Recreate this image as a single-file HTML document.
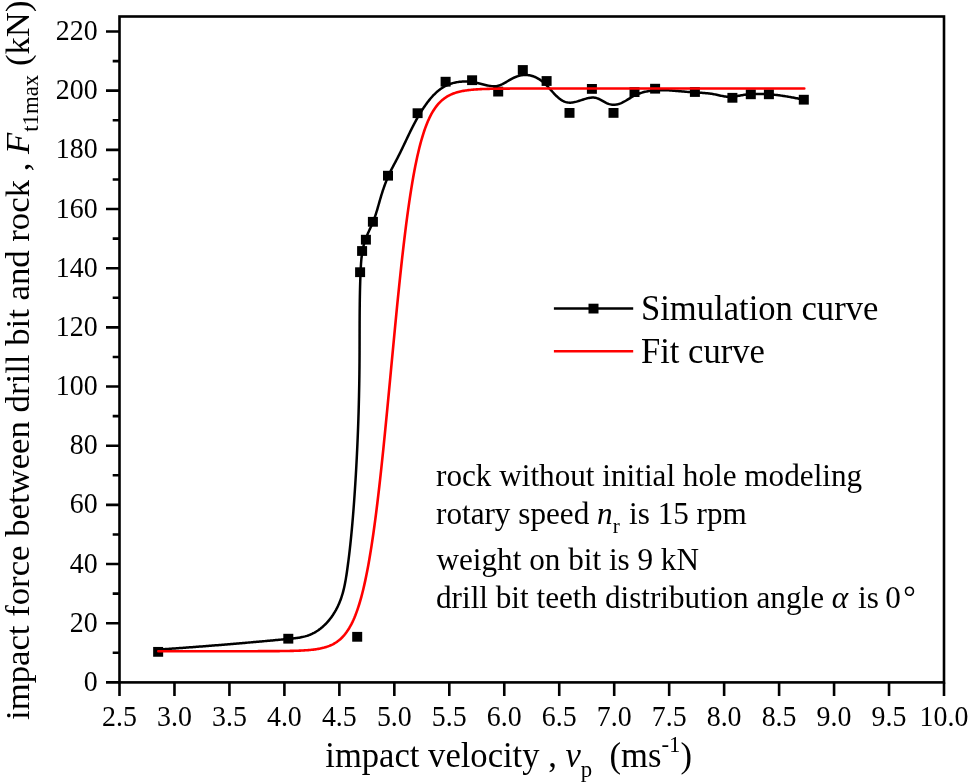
<!DOCTYPE html><html><head><meta charset="utf-8"><style>html,body{margin:0;padding:0;background:#fff;}svg{display:block;will-change:transform}</style></head><body>
<svg width="969" height="784" viewBox="0 0 969 784" font-family="Liberation Serif, serif">
<rect width="969" height="784" fill="#fff"/>
<path d="M106.00 682.40H119.50 M112.70 652.81H119.50 M106.00 623.23H119.50 M112.70 593.64H119.50 M106.00 564.05H119.50 M112.70 534.47H119.50 M106.00 504.88H119.50 M112.70 475.30H119.50 M106.00 445.71H119.50 M112.70 416.12H119.50 M106.00 386.54H119.50 M112.70 356.95H119.50 M106.00 327.36H119.50 M112.70 297.78H119.50 M106.00 268.19H119.50 M112.70 238.60H119.50 M106.00 209.02H119.50 M112.70 179.43H119.50 M106.00 149.85H119.50 M112.70 120.26H119.50 M106.00 90.67H119.50 M112.70 61.09H119.50 M106.00 31.50H119.50 M119.50 682.40V695.90 M174.47 682.40V695.90 M229.43 682.40V695.90 M284.40 682.40V695.90 M339.37 682.40V695.90 M394.33 682.40V695.90 M449.30 682.40V695.90 M504.27 682.40V695.90 M559.23 682.40V695.90 M614.20 682.40V695.90 M669.17 682.40V695.90 M724.13 682.40V695.90 M779.10 682.40V695.90 M834.07 682.40V695.90 M889.03 682.40V695.90 M944.00 682.40V695.90" stroke="#000" stroke-width="2.6" fill="none"/>
<rect x="119.5" y="16.5" width="824.5" height="665.9" fill="none" stroke="#000" stroke-width="2.6"/>
<text transform="matrix(1 0 0 1.075 0 -51.817)" x="97.6" y="690.90" font-size="27.9" text-anchor="end">0</text>
<text transform="matrix(1 0 0 1.075 0 -47.380)" x="97.6" y="631.73" font-size="27.9" text-anchor="end">20</text>
<text transform="matrix(1 0 0 1.075 0 -42.942)" x="97.6" y="572.55" font-size="27.9" text-anchor="end">40</text>
<text transform="matrix(1 0 0 1.075 0 -38.504)" x="97.6" y="513.38" font-size="27.9" text-anchor="end">60</text>
<text transform="matrix(1 0 0 1.075 0 -34.066)" x="97.6" y="454.21" font-size="27.9" text-anchor="end">80</text>
<text transform="matrix(1 0 0 1.075 0 -29.628)" x="97.6" y="395.04" font-size="27.9" text-anchor="end">100</text>
<text transform="matrix(1 0 0 1.075 0 -25.190)" x="97.6" y="335.86" font-size="27.9" text-anchor="end">120</text>
<text transform="matrix(1 0 0 1.075 0 -20.752)" x="97.6" y="276.69" font-size="27.9" text-anchor="end">140</text>
<text transform="matrix(1 0 0 1.075 0 -16.314)" x="97.6" y="217.52" font-size="27.9" text-anchor="end">160</text>
<text transform="matrix(1 0 0 1.075 0 -11.876)" x="97.6" y="158.35" font-size="27.9" text-anchor="end">180</text>
<text transform="matrix(1 0 0 1.075 0 -7.438)" x="97.6" y="99.17" font-size="27.9" text-anchor="end">200</text>
<text transform="matrix(1 0 0 1.075 0 -3.000)" x="97.6" y="40.00" font-size="27.9" text-anchor="end">220</text>
<text transform="matrix(1 0 0 1.075 0 -54.472)" x="119.50" y="726.3" font-size="27.9" text-anchor="middle">2.5</text>
<text transform="matrix(1 0 0 1.075 0 -54.472)" x="174.47" y="726.3" font-size="27.9" text-anchor="middle">3.0</text>
<text transform="matrix(1 0 0 1.075 0 -54.472)" x="229.43" y="726.3" font-size="27.9" text-anchor="middle">3.5</text>
<text transform="matrix(1 0 0 1.075 0 -54.472)" x="284.40" y="726.3" font-size="27.9" text-anchor="middle">4.0</text>
<text transform="matrix(1 0 0 1.075 0 -54.472)" x="339.37" y="726.3" font-size="27.9" text-anchor="middle">4.5</text>
<text transform="matrix(1 0 0 1.075 0 -54.472)" x="394.33" y="726.3" font-size="27.9" text-anchor="middle">5.0</text>
<text transform="matrix(1 0 0 1.075 0 -54.472)" x="449.30" y="726.3" font-size="27.9" text-anchor="middle">5.5</text>
<text transform="matrix(1 0 0 1.075 0 -54.472)" x="504.27" y="726.3" font-size="27.9" text-anchor="middle">6.0</text>
<text transform="matrix(1 0 0 1.075 0 -54.472)" x="559.23" y="726.3" font-size="27.9" text-anchor="middle">6.5</text>
<text transform="matrix(1 0 0 1.075 0 -54.472)" x="614.20" y="726.3" font-size="27.9" text-anchor="middle">7.0</text>
<text transform="matrix(1 0 0 1.075 0 -54.472)" x="669.17" y="726.3" font-size="27.9" text-anchor="middle">7.5</text>
<text transform="matrix(1 0 0 1.075 0 -54.472)" x="724.13" y="726.3" font-size="27.9" text-anchor="middle">8.0</text>
<text transform="matrix(1 0 0 1.075 0 -54.472)" x="779.10" y="726.3" font-size="27.9" text-anchor="middle">8.5</text>
<text transform="matrix(1 0 0 1.075 0 -54.472)" x="834.07" y="726.3" font-size="27.9" text-anchor="middle">9.0</text>
<text transform="matrix(1 0 0 1.075 0 -54.472)" x="889.03" y="726.3" font-size="27.9" text-anchor="middle">9.5</text>
<text transform="matrix(1 0 0 1.075 0 -54.472)" x="944.00" y="726.3" font-size="27.9" text-anchor="middle">10.0</text>
<path d="M158.13 649.62 L159.15 649.55 L160.17 649.48 L161.19 649.41 L162.20 649.34 L163.22 649.27 L164.24 649.19 L165.25 649.12 L166.27 649.05 L167.28 648.98 L168.29 648.91 L169.30 648.84 L170.31 648.76 L171.32 648.69 L172.33 648.62 L173.34 648.55 L174.35 648.48 L175.35 648.40 L176.36 648.33 L177.36 648.26 L178.37 648.18 L179.37 648.11 L180.37 648.04 L181.38 647.96 L182.38 647.89 L183.38 647.82 L184.38 647.74 L185.38 647.67 L186.38 647.59 L187.37 647.52 L188.37 647.44 L189.37 647.37 L190.37 647.30 L191.36 647.22 L192.36 647.14 L193.35 647.07 L194.35 646.99 L195.34 646.92 L196.33 646.84 L197.33 646.77 L198.32 646.69 L199.31 646.61 L200.30 646.54 L201.29 646.46 L202.28 646.38 L203.27 646.31 L204.26 646.23 L205.25 646.15 L206.24 646.07 L207.23 646.00 L208.22 645.92 L209.21 645.84 L210.20 645.76 L211.19 645.68 L212.18 645.60 L213.17 645.52 L214.15 645.45 L215.14 645.37 L216.13 645.29 L217.12 645.21 L218.10 645.13 L219.09 645.05 L220.08 644.97 L221.07 644.89 L222.05 644.81 L223.04 644.72 L224.03 644.64 L225.01 644.56 L226.00 644.48 L226.99 644.40 L227.98 644.32 L228.96 644.23 L229.95 644.15 L230.94 644.07 L231.93 643.99 L232.91 643.90 L233.90 643.82 L234.89 643.74 L235.88 643.65 L236.87 643.57 L237.86 643.48 L238.85 643.40 L239.84 643.32 L240.82 643.23 L241.81 643.15 L242.80 643.06 L243.80 642.97 L244.79 642.89 L245.78 642.80 L246.77 642.72 L247.76 642.63 L248.75 642.54 L249.75 642.46 L250.74 642.37 L251.73 642.28 L252.73 642.19 L253.72 642.11 L254.72 642.02 L255.71 641.93 L256.71 641.84 L257.71 641.75 L258.70 641.66 L259.70 641.57 L260.70 641.48 L261.70 641.39 L262.70 641.30 L263.70 641.21 L264.70 641.12 L265.70 641.03 L266.71 640.94 L267.71 640.85 L268.71 640.76 L269.72 640.66 L270.72 640.57 L271.73 640.48 L272.74 640.39 L273.74 640.29 L274.75 640.20 L275.76 640.11 L276.77 640.01 L277.78 639.92 L278.80 639.82 L279.81 639.73 L280.82 639.63 L281.84 639.54 L282.85 639.44 L283.87 639.35 L284.89 639.25 L285.91 639.15 L286.93 639.06 L287.95 638.96 L288.97 638.86 L289.99 638.76 L291.02 638.66 L292.04 638.56 L293.06 638.45 L294.08 638.34 L295.10 638.22 L296.11 638.09 L297.12 637.95 L298.13 637.80 L299.13 637.65 L300.13 637.48 L301.12 637.29 L302.11 637.09 L303.09 636.88 L304.06 636.65 L305.03 636.40 L305.98 636.13 L306.93 635.85 L307.87 635.54 L308.79 635.21 L309.71 634.85 L310.62 634.48 L311.51 634.08 L312.40 633.67 L313.28 633.23 L314.14 632.78 L314.99 632.30 L315.84 631.81 L316.67 631.29 L317.49 630.76 L318.30 630.21 L319.10 629.64 L319.89 629.06 L320.67 628.46 L321.44 627.84 L322.20 627.21 L322.94 626.56 L323.68 625.89 L324.40 625.21 L325.11 624.52 L325.81 623.81 L326.50 623.09 L327.17 622.36 L327.84 621.61 L328.49 620.85 L329.13 620.08 L329.76 619.30 L330.38 618.51 L330.99 617.70 L331.58 616.89 L332.17 616.06 L332.74 615.23 L333.29 614.38 L333.84 613.53 L334.37 612.67 L334.89 611.80 L335.40 610.92 L335.90 610.04 L336.38 609.14 L336.85 608.25 L337.31 607.34 L337.76 606.43 L338.19 605.52 L338.61 604.60 L339.02 603.67 L339.41 602.74 L339.79 601.81 L340.16 600.88 L340.52 599.94 L340.86 599.00 L341.19 598.05 L341.51 597.10 L341.82 596.15 L342.12 595.20 L342.41 594.24 L342.69 593.28 L342.95 592.32 L343.21 591.35 L343.46 590.39 L343.70 589.42 L343.93 588.45 L344.16 587.47 L344.37 586.50 L344.58 585.52 L344.78 584.54 L344.98 583.56 L345.17 582.58 L345.35 581.60 L345.53 580.62 L345.70 579.63 L345.87 578.64 L346.03 577.66 L346.19 576.67 L346.35 575.68 L346.50 574.69 L346.65 573.70 L346.80 572.71 L346.94 571.71 L347.08 570.72 L347.22 569.73 L347.36 568.74 L347.50 567.74 L347.63 566.75 L347.77 565.76 L347.90 564.77 L348.03 563.77 L348.16 562.78 L348.29 561.79 L348.42 560.79 L348.54 559.80 L348.67 558.80 L348.79 557.81 L348.92 556.82 L349.04 555.82 L349.16 554.83 L349.28 553.83 L349.39 552.84 L349.51 551.84 L349.62 550.85 L349.74 549.85 L349.85 548.86 L349.96 547.86 L350.07 546.87 L350.18 545.87 L350.29 544.88 L350.40 543.88 L350.50 542.89 L350.61 541.89 L350.71 540.89 L350.82 539.90 L350.92 538.90 L351.02 537.91 L351.12 536.91 L351.22 535.91 L351.31 534.92 L351.41 533.92 L351.51 532.92 L351.60 531.93 L351.69 530.93 L351.79 529.93 L351.88 528.93 L351.97 527.94 L352.06 526.94 L352.15 525.94 L352.24 524.95 L352.33 523.95 L352.41 522.95 L352.50 521.95 L352.58 520.95 L352.67 519.96 L352.75 518.96 L352.84 517.96 L352.92 516.96 L353.00 515.96 L353.08 514.97 L353.16 513.97 L353.24 512.97 L353.32 511.97 L353.39 510.97 L353.47 509.97 L353.55 508.98 L353.62 507.98 L353.70 506.98 L353.77 505.98 L353.85 504.98 L353.92 503.98 L353.99 502.98 L354.07 501.98 L354.14 500.99 L354.21 499.99 L354.28 498.99 L354.35 497.99 L354.42 496.99 L354.49 495.99 L354.56 494.99 L354.62 493.99 L354.69 492.99 L354.76 491.99 L354.83 490.99 L354.89 489.99 L354.96 488.99 L355.02 487.99 L355.09 487.00 L355.15 486.00 L355.22 485.00 L355.28 484.00 L355.34 483.00 L355.40 482.00 L355.47 481.00 L355.53 480.00 L355.59 479.00 L355.65 478.00 L355.71 477.00 L355.77 476.00 L355.83 475.00 L355.89 474.00 L355.94 473.00 L356.00 472.00 L356.06 471.00 L356.12 470.00 L356.17 469.00 L356.23 468.00 L356.28 467.00 L356.34 466.00 L356.39 465.00 L356.44 464.00 L356.50 463.00 L356.55 462.00 L356.60 461.00 L356.65 460.00 L356.71 459.00 L356.76 458.00 L356.81 456.99 L356.86 455.99 L356.91 454.99 L356.96 453.99 L357.00 452.99 L357.05 451.99 L357.10 450.99 L357.15 449.99 L357.19 448.99 L357.24 447.99 L357.29 446.99 L357.33 445.99 L357.38 444.99 L357.42 443.99 L357.46 442.99 L357.51 441.99 L357.55 440.98 L357.59 439.98 L357.64 438.98 L357.68 437.98 L357.72 436.98 L357.76 435.98 L357.80 434.98 L357.84 433.98 L357.88 432.98 L357.92 431.98 L357.96 430.98 L357.99 429.97 L358.03 428.97 L358.07 427.97 L358.10 426.97 L358.14 425.97 L358.18 424.97 L358.21 423.97 L358.25 422.97 L358.28 421.97 L358.31 420.96 L358.35 419.96 L358.38 418.96 L358.41 417.96 L358.44 416.96 L358.47 415.96 L358.51 414.96 L358.54 413.96 L358.57 412.95 L358.60 411.95 L358.63 410.95 L358.65 409.95 L358.68 408.95 L358.71 407.95 L358.74 406.95 L358.76 405.94 L358.79 404.94 L358.82 403.94 L358.84 402.94 L358.87 401.94 L358.89 400.94 L358.92 399.94 L358.94 398.94 L358.96 397.93 L358.99 396.93 L359.01 395.93 L359.03 394.93 L359.05 393.93 L359.07 392.93 L359.09 391.93 L359.11 390.92 L359.13 389.92 L359.15 388.92 L359.17 387.92 L359.19 386.92 L359.21 385.92 L359.23 384.91 L359.24 383.91 L359.26 382.91 L359.28 381.91 L359.29 380.91 L359.31 379.91 L359.32 378.91 L359.34 377.90 L359.35 376.90 L359.36 375.90 L359.38 374.90 L359.39 373.90 L359.40 372.90 L359.41 371.89 L359.42 370.89 L359.44 369.89 L359.45 368.89 L359.46 367.89 L359.47 366.89 L359.48 365.89 L359.48 364.88 L359.49 363.88 L359.50 362.88 L359.51 361.88 L359.51 360.88 L359.52 359.88 L359.53 358.87 L359.53 357.87 L359.54 356.87 L359.54 355.87 L359.55 354.87 L359.55 353.87 L359.56 352.87 L359.56 351.86 L359.56 350.86 L359.57 349.86 L359.57 348.86 L359.57 347.86 L359.57 346.86 L359.58 345.86 L359.58 344.85 L359.58 343.85 L359.58 342.85 L359.58 341.85 L359.58 340.85 L359.59 339.85 L359.59 338.85 L359.59 337.84 L359.59 336.84 L359.59 335.84 L359.59 334.84 L359.60 333.84 L359.60 332.84 L359.60 331.83 L359.60 330.83 L359.60 329.83 L359.60 328.83 L359.61 327.83 L359.61 326.83 L359.61 325.83 L359.61 324.82 L359.62 323.82 L359.62 322.82 L359.62 321.82 L359.63 320.82 L359.63 319.82 L359.64 318.82 L359.64 317.81 L359.65 316.81 L359.65 315.81 L359.66 314.81 L359.67 313.81 L359.67 312.81 L359.68 311.80 L359.69 310.80 L359.70 309.80 L359.71 308.80 L359.72 307.80 L359.73 306.80 L359.74 305.79 L359.75 304.79 L359.76 303.79 L359.77 302.79 L359.79 301.79 L359.80 300.79 L359.81 299.78 L359.83 298.78 L359.85 297.78 L359.86 296.78 L359.88 295.78 L359.90 294.77 L359.92 293.77 L359.94 292.77 L359.96 291.77 L359.98 290.77 L360.00 289.77 L360.03 288.76 L360.05 287.76 L360.08 286.76 L360.10 285.76 L360.13 284.76 L360.16 283.75 L360.19 282.75 L360.22 281.75 L360.25 280.75 L360.28 279.75 L360.32 278.74 L360.35 277.74 L360.39 276.74 L360.43 275.74 L360.46 274.74 L360.50 273.73 L360.54 272.73 L360.59 271.73 L360.63 270.73 L360.68 269.72 L360.72 268.72 L360.77 267.72 L360.83 266.72 L360.89 265.72 L360.95 264.72 L361.01 263.72 L361.08 262.72 L361.16 261.73 L361.24 260.73 L361.33 259.74 L361.43 258.74 L361.53 257.75 L361.65 256.76 L361.76 255.77 L361.89 254.79 L362.03 253.80 L362.18 252.82 L362.33 251.84 L362.50 250.86 L362.68 249.89 L362.87 248.91 L363.07 247.94 L363.29 246.98 L363.51 246.01 L363.75 245.05 L364.01 244.09 L364.27 243.13 L364.56 242.18 L364.85 241.23 L365.17 240.29 L365.50 239.34 L365.84 238.41 L366.20 237.47 L366.57 236.54 L366.95 235.61 L367.35 234.68 L367.75 233.76 L368.16 232.83 L368.57 231.91 L368.99 230.98 L369.41 230.06 L369.84 229.14 L370.26 228.22 L370.68 227.29 L371.10 226.37 L371.52 225.44 L371.92 224.51 L372.33 223.58 L372.72 222.65 L373.10 221.72 L373.48 220.78 L373.84 219.84 L374.19 218.89 L374.54 217.94 L374.87 216.99 L375.20 216.04 L375.51 215.09 L375.83 214.13 L376.13 213.18 L376.43 212.22 L376.72 211.26 L377.01 210.30 L377.30 209.34 L377.58 208.37 L377.85 207.41 L378.13 206.45 L378.40 205.49 L378.68 204.52 L378.95 203.56 L379.22 202.60 L379.49 201.64 L379.77 200.68 L380.04 199.72 L380.32 198.76 L380.60 197.81 L380.88 196.85 L381.17 195.90 L381.46 194.95 L381.75 194.00 L382.05 193.06 L382.35 192.11 L382.65 191.17 L382.96 190.22 L383.28 189.28 L383.60 188.34 L383.92 187.41 L384.25 186.47 L384.58 185.54 L384.92 184.61 L385.27 183.68 L385.62 182.75 L385.97 181.82 L386.34 180.89 L386.71 179.97 L387.08 179.05 L387.46 178.13 L387.85 177.21 L388.25 176.29 L388.65 175.38 L389.06 174.46 L389.48 173.55 L389.90 172.64 L390.33 171.73 L390.78 170.82 L391.22 169.92 L391.68 169.02 L392.15 168.11 L392.62 167.21 L393.09 166.31 L393.57 165.41 L394.05 164.52 L394.53 163.62 L395.01 162.72 L395.49 161.82 L395.96 160.93 L396.44 160.03 L396.91 159.13 L397.37 158.24 L397.83 157.34 L398.29 156.44 L398.74 155.55 L399.19 154.65 L399.64 153.75 L400.08 152.85 L400.52 151.96 L400.96 151.06 L401.40 150.16 L401.83 149.26 L402.26 148.37 L402.69 147.47 L403.12 146.58 L403.55 145.68 L403.97 144.78 L404.40 143.89 L404.82 142.99 L405.25 142.10 L405.67 141.21 L406.09 140.31 L406.52 139.42 L406.94 138.53 L407.36 137.64 L407.79 136.74 L408.21 135.85 L408.64 134.96 L409.07 134.07 L409.50 133.19 L409.93 132.30 L410.36 131.41 L410.80 130.53 L411.24 129.64 L411.68 128.76 L412.12 127.87 L412.57 126.99 L413.01 126.11 L413.47 125.23 L413.92 124.35 L414.38 123.47 L414.85 122.60 L415.32 121.72 L415.79 120.85 L416.27 119.97 L416.75 119.10 L417.24 118.23 L417.73 117.36 L418.23 116.49 L418.73 115.63 L419.24 114.76 L419.76 113.90 L420.28 113.04 L420.81 112.18 L421.35 111.32 L421.89 110.46 L422.44 109.60 L422.99 108.75 L423.56 107.90 L424.13 107.05 L424.71 106.20 L425.30 105.35 L425.90 104.51 L426.50 103.67 L427.11 102.84 L427.74 102.02 L428.37 101.20 L429.00 100.39 L429.65 99.59 L430.31 98.79 L430.97 98.01 L431.65 97.24 L432.33 96.47 L433.02 95.72 L433.73 94.99 L434.44 94.26 L435.16 93.55 L435.89 92.86 L436.63 92.18 L437.38 91.52 L438.15 90.88 L438.92 90.25 L439.70 89.64 L440.49 89.05 L441.29 88.48 L442.11 87.94 L442.93 87.41 L443.77 86.91 L444.61 86.43 L445.47 85.97 L446.34 85.54 L447.22 85.13 L448.11 84.75 L449.01 84.38 L449.91 84.04 L450.83 83.73 L451.75 83.43 L452.68 83.16 L453.62 82.91 L454.57 82.68 L455.53 82.47 L456.49 82.29 L457.45 82.12 L458.42 81.98 L459.40 81.86 L460.38 81.76 L461.37 81.67 L462.36 81.61 L463.35 81.57 L464.35 81.55 L465.35 81.55 L466.35 81.56 L467.35 81.60 L468.36 81.65 L469.37 81.73 L470.37 81.82 L471.38 81.93 L472.39 82.06 L473.40 82.20 L474.41 82.37 L475.41 82.55 L476.42 82.75 L477.42 82.96 L478.42 83.19 L479.42 83.44 L480.41 83.69 L481.41 83.96 L482.40 84.22 L483.38 84.48 L484.37 84.74 L485.35 84.99 L486.33 85.23 L487.31 85.45 L488.28 85.65 L489.25 85.83 L490.21 85.98 L491.18 86.10 L492.14 86.19 L493.09 86.24 L494.05 86.25 L495.00 86.21 L495.94 86.12 L496.89 85.99 L497.82 85.79 L498.76 85.54 L499.69 85.24 L500.62 84.89 L501.54 84.49 L502.47 84.06 L503.39 83.59 L504.31 83.10 L505.23 82.59 L506.14 82.06 L507.06 81.53 L507.98 80.99 L508.90 80.44 L509.82 79.91 L510.74 79.38 L511.66 78.87 L512.58 78.39 L513.51 77.93 L514.44 77.50 L515.37 77.10 L516.30 76.73 L517.23 76.39 L518.17 76.09 L519.11 75.82 L520.05 75.58 L520.98 75.38 L521.92 75.22 L522.86 75.09 L523.80 75.00 L524.75 74.95 L525.69 74.93 L526.63 74.96 L527.57 75.03 L528.50 75.14 L529.44 75.29 L530.37 75.48 L531.31 75.70 L532.23 75.97 L533.15 76.27 L534.07 76.61 L534.98 76.98 L535.88 77.39 L536.77 77.83 L537.65 78.30 L538.53 78.81 L539.39 79.35 L540.24 79.91 L541.08 80.51 L541.91 81.14 L542.72 81.79 L543.52 82.47 L544.30 83.18 L545.08 83.90 L545.84 84.64 L546.59 85.40 L547.34 86.18 L548.08 86.96 L548.81 87.75 L549.54 88.54 L550.26 89.34 L550.98 90.14 L551.69 90.94 L552.40 91.73 L553.12 92.51 L553.83 93.29 L554.55 94.05 L555.26 94.79 L555.98 95.52 L556.71 96.23 L557.44 96.91 L558.17 97.57 L558.92 98.20 L559.67 98.80 L560.43 99.37 L561.20 99.90 L561.98 100.39 L562.78 100.84 L563.59 101.24 L564.41 101.60 L565.25 101.91 L566.10 102.17 L566.97 102.38 L567.86 102.53 L568.77 102.62 L569.69 102.65 L570.63 102.63 L571.59 102.56 L572.56 102.44 L573.54 102.28 L574.53 102.09 L575.52 101.87 L576.51 101.62 L577.51 101.34 L578.51 101.05 L579.50 100.74 L580.49 100.42 L581.47 100.10 L582.45 99.78 L583.42 99.46 L584.39 99.15 L585.34 98.85 L586.30 98.58 L587.25 98.32 L588.19 98.09 L589.13 97.90 L590.07 97.74 L591.01 97.63 L591.94 97.56 L592.86 97.54 L593.79 97.58 L594.71 97.67 L595.63 97.84 L596.55 98.07 L597.47 98.38 L598.39 98.75 L599.30 99.16 L600.22 99.63 L601.13 100.12 L602.05 100.63 L602.96 101.15 L603.88 101.67 L604.79 102.17 L605.71 102.66 L606.63 103.11 L607.55 103.52 L608.47 103.87 L609.39 104.16 L610.32 104.39 L611.24 104.56 L612.17 104.68 L613.09 104.74 L614.01 104.75 L614.93 104.70 L615.85 104.60 L616.77 104.46 L617.68 104.26 L618.59 104.02 L619.50 103.73 L620.40 103.40 L621.29 103.03 L622.18 102.62 L623.07 102.18 L623.96 101.72 L624.84 101.23 L625.73 100.73 L626.61 100.21 L627.49 99.67 L628.38 99.14 L629.26 98.60 L630.15 98.06 L631.04 97.53 L631.93 97.00 L632.83 96.50 L633.73 96.01 L634.64 95.54 L635.55 95.09 L636.47 94.67 L637.40 94.27 L638.32 93.90 L639.26 93.54 L640.19 93.21 L641.14 92.89 L642.08 92.60 L643.03 92.32 L643.99 92.07 L644.95 91.83 L645.91 91.61 L646.88 91.41 L647.85 91.22 L648.82 91.06 L649.80 90.90 L650.78 90.77 L651.76 90.64 L652.75 90.54 L653.74 90.44 L654.73 90.36 L655.72 90.30 L656.72 90.24 L657.72 90.20 L658.72 90.17 L659.72 90.15 L660.73 90.14 L661.73 90.14 L662.74 90.14 L663.75 90.16 L664.76 90.19 L665.77 90.22 L666.78 90.26 L667.80 90.31 L668.81 90.37 L669.83 90.43 L670.84 90.50 L671.86 90.57 L672.87 90.64 L673.89 90.72 L674.90 90.80 L675.92 90.89 L676.93 90.98 L677.95 91.07 L678.96 91.16 L679.97 91.25 L680.99 91.34 L682.00 91.43 L683.01 91.53 L684.02 91.62 L685.02 91.71 L686.03 91.79 L687.03 91.88 L688.03 91.96 L689.03 92.03 L690.03 92.11 L691.03 92.17 L692.02 92.24 L693.01 92.30 L694.00 92.36 L694.99 92.41 L695.98 92.47 L696.96 92.53 L697.95 92.58 L698.93 92.64 L699.91 92.70 L700.89 92.76 L701.88 92.83 L702.86 92.90 L703.84 92.97 L704.82 93.05 L705.80 93.14 L706.78 93.24 L707.77 93.34 L708.75 93.45 L709.74 93.57 L710.72 93.71 L711.71 93.85 L712.70 94.01 L713.69 94.17 L714.68 94.36 L715.68 94.55 L716.68 94.76 L717.67 94.98 L718.67 95.21 L719.68 95.44 L720.68 95.66 L721.68 95.88 L722.68 96.09 L723.68 96.28 L724.67 96.45 L725.67 96.59 L726.66 96.71 L727.65 96.79 L728.63 96.84 L729.62 96.85 L730.60 96.83 L731.57 96.78 L732.55 96.70 L733.52 96.61 L734.49 96.48 L735.46 96.35 L736.43 96.19 L737.40 96.02 L738.37 95.85 L739.34 95.67 L740.31 95.49 L741.29 95.32 L742.26 95.15 L743.24 95.00 L744.22 94.86 L745.20 94.73 L746.18 94.61 L747.17 94.50 L748.16 94.40 L749.15 94.31 L750.14 94.22 L751.13 94.15 L752.12 94.09 L753.12 94.04 L754.12 93.99 L755.11 93.96 L756.11 93.93 L757.11 93.92 L758.11 93.91 L759.11 93.91 L760.12 93.91 L761.12 93.93 L762.13 93.95 L763.13 93.98 L764.14 94.02 L765.14 94.06 L766.15 94.11 L767.15 94.17 L768.16 94.24 L769.17 94.31 L770.17 94.39 L771.18 94.47 L772.18 94.57 L773.19 94.66 L774.20 94.77 L775.20 94.87 L776.21 94.99 L777.21 95.11 L778.21 95.23 L779.22 95.36 L780.22 95.49 L781.22 95.63 L782.22 95.77 L783.22 95.92 L784.22 96.07 L785.21 96.23 L786.21 96.39 L787.20 96.55 L788.19 96.71 L789.18 96.88 L790.17 97.06 L791.16 97.23 L792.15 97.41 L793.13 97.59 L794.11 97.77 L795.09 97.96 L796.07 98.15 L797.04 98.34 L798.02 98.53 L798.99 98.72 L799.95 98.91 L800.92 99.11 L801.88 99.31 L802.84 99.51 L803.80 99.70" stroke="#000" stroke-width="2.5" fill="none" stroke-linejoin="round"/>
<g fill="#000"><rect x="153.15" y="646.95" width="10.0" height="9.8"/><rect x="283.30" y="633.80" width="10.0" height="9.8"/><rect x="352.20" y="631.90" width="10.0" height="9.8"/><rect x="355.10" y="267.30" width="10.0" height="9.8"/><rect x="357.10" y="246.10" width="10.0" height="9.8"/><rect x="360.90" y="234.80" width="10.0" height="9.8"/><rect x="367.90" y="216.90" width="10.0" height="9.8"/><rect x="383.00" y="170.80" width="10.0" height="9.8"/><rect x="412.60" y="108.30" width="10.0" height="9.8"/><rect x="440.60" y="76.80" width="10.0" height="9.8"/><rect x="467.10" y="75.30" width="10.0" height="9.8"/><rect x="493.20" y="86.70" width="10.0" height="9.8"/><rect x="517.80" y="65.10" width="10.0" height="9.8"/><rect x="541.60" y="76.10" width="10.0" height="9.8"/><rect x="564.50" y="108.00" width="10.0" height="9.8"/><rect x="586.90" y="84.00" width="10.0" height="9.8"/><rect x="608.50" y="108.00" width="10.0" height="9.8"/><rect x="629.50" y="87.20" width="10.0" height="9.8"/><rect x="650.10" y="83.80" width="10.0" height="9.8"/><rect x="689.90" y="87.10" width="10.0" height="9.8"/><rect x="727.40" y="92.90" width="10.0" height="9.8"/><rect x="745.80" y="89.40" width="10.0" height="9.8"/><rect x="763.90" y="89.40" width="10.0" height="9.8"/><rect x="798.80" y="94.80" width="10.0" height="9.8"/></g>
<path d="M158.30 651.20 L159.30 651.20 L160.30 651.20 L161.30 651.20 L162.30 651.20 L163.30 651.20 L164.30 651.20 L165.30 651.20 L166.30 651.20 L167.30 651.20 L168.30 651.20 L169.30 651.20 L170.30 651.20 L171.30 651.20 L172.30 651.20 L173.30 651.20 L174.30 651.20 L175.30 651.20 L176.30 651.20 L177.30 651.20 L178.30 651.20 L179.30 651.20 L180.30 651.20 L181.30 651.20 L182.30 651.20 L183.30 651.20 L184.30 651.20 L185.30 651.20 L186.30 651.20 L187.30 651.20 L188.30 651.20 L189.30 651.20 L190.30 651.20 L191.30 651.20 L192.30 651.20 L193.30 651.20 L194.30 651.20 L195.30 651.20 L196.30 651.20 L197.30 651.20 L198.30 651.20 L199.30 651.20 L200.30 651.20 L201.30 651.20 L202.30 651.20 L203.30 651.20 L204.30 651.20 L205.30 651.20 L206.30 651.20 L207.30 651.20 L208.30 651.20 L209.30 651.20 L210.30 651.20 L211.30 651.20 L212.30 651.20 L213.30 651.20 L214.30 651.20 L215.30 651.20 L216.30 651.20 L217.30 651.20 L218.30 651.20 L219.30 651.20 L220.30 651.20 L221.30 651.20 L222.30 651.20 L223.30 651.20 L224.30 651.20 L225.30 651.20 L226.30 651.20 L227.30 651.20 L228.30 651.20 L229.30 651.20 L230.30 651.20 L231.30 651.20 L232.30 651.20 L233.30 651.20 L234.30 651.20 L235.30 651.20 L236.30 651.20 L237.30 651.19 L238.30 651.19 L239.30 651.19 L240.30 651.19 L241.30 651.19 L242.30 651.19 L243.30 651.19 L244.30 651.19 L245.30 651.19 L246.30 651.19 L247.30 651.19 L248.30 651.19 L249.30 651.19 L250.30 651.19 L251.30 651.19 L252.30 651.18 L253.30 651.18 L254.30 651.18 L255.30 651.18 L256.30 651.18 L257.30 651.18 L258.30 651.17 L259.30 651.17 L260.30 651.17 L261.30 651.17 L262.30 651.17 L263.30 651.16 L264.30 651.16 L265.30 651.16 L266.30 651.15 L267.30 651.15 L268.30 651.15 L269.30 651.14 L270.30 651.14 L271.30 651.13 L272.30 651.13 L273.30 651.12 L274.30 651.12 L275.30 651.11 L276.30 651.10 L277.30 651.09 L278.30 651.09 L279.30 651.08 L280.30 651.07 L281.30 651.06 L282.30 651.05 L283.30 651.03 L284.30 651.02 L285.30 651.01 L286.30 650.99 L287.30 650.97 L288.30 650.96 L289.30 650.94 L290.30 650.92 L291.30 650.89 L292.30 650.87 L293.30 650.85 L294.30 650.82 L295.30 650.79 L296.30 650.76 L297.30 650.72 L298.30 650.68 L299.30 650.64 L300.30 650.60 L301.30 650.55 L302.30 650.50 L303.30 650.45 L304.30 650.39 L305.30 650.32 L306.30 650.25 L307.30 650.18 L308.30 650.10 L309.30 650.02 L310.30 649.92 L311.30 649.82 L312.30 649.72 L313.30 649.60 L314.30 649.47 L315.30 649.34 L316.30 649.19 L317.30 649.04 L318.30 648.87 L319.30 648.69 L320.30 648.49 L321.30 648.28 L322.30 648.05 L323.30 647.81 L324.30 647.55 L325.30 647.26 L326.30 646.95 L327.30 646.62 L328.30 646.27 L329.30 645.89 L330.30 645.47 L331.30 645.03 L332.30 644.55 L333.30 644.04 L334.30 643.49 L335.30 642.89 L336.30 642.25 L337.30 641.56 L338.30 640.82 L339.30 640.02 L340.30 639.17 L341.30 638.25 L342.30 637.26 L343.30 636.19 L344.30 635.05 L345.30 633.83 L346.30 632.51 L347.30 631.10 L348.30 629.59 L349.30 627.96 L350.30 626.22 L351.30 624.36 L352.30 622.36 L353.30 620.23 L354.30 617.95 L355.30 615.51 L356.30 612.90 L357.30 610.12 L358.30 607.16 L359.30 604.00 L360.30 600.63 L361.30 597.05 L362.30 593.25 L363.30 589.21 L364.30 584.92 L365.30 580.38 L366.30 575.58 L367.30 570.51 L368.30 565.15 L369.30 559.51 L370.30 553.58 L371.30 547.34 L372.30 540.80 L373.30 533.96 L374.30 526.80 L375.30 519.34 L376.30 511.58 L377.30 503.51 L378.30 495.15 L379.30 486.50 L380.30 477.58 L381.30 468.40 L382.30 458.97 L383.30 449.32 L384.30 439.46 L385.30 429.41 L386.30 419.20 L387.30 408.85 L388.30 398.40 L389.30 387.86 L390.30 377.27 L391.30 366.67 L392.30 356.07 L393.30 345.51 L394.30 335.02 L395.30 324.63 L396.30 314.36 L397.30 304.24 L398.30 294.30 L399.30 284.56 L400.30 275.04 L401.30 265.76 L402.30 256.73 L403.30 247.98 L404.30 239.50 L405.30 231.31 L406.30 223.43 L407.30 215.85 L408.30 208.57 L409.30 201.60 L410.30 194.94 L411.30 188.58 L412.30 182.53 L413.30 176.77 L414.30 171.30 L415.30 166.11 L416.30 161.20 L417.30 156.56 L418.30 152.18 L419.30 148.04 L420.30 144.14 L421.30 140.48 L422.30 137.03 L423.30 133.78 L424.30 130.74 L425.30 127.89 L426.30 125.21 L427.30 122.71 L428.30 120.36 L429.30 118.17 L430.30 116.12 L431.30 114.21 L432.30 112.42 L433.30 110.75 L434.30 109.19 L435.30 107.74 L436.30 106.39 L437.30 105.13 L438.30 103.95 L439.30 102.86 L440.30 101.84 L441.30 100.89 L442.30 100.01 L443.30 99.19 L444.30 98.43 L445.30 97.72 L446.30 97.06 L447.30 96.45 L448.30 95.88 L449.30 95.35 L450.30 94.86 L451.30 94.40 L452.30 93.97 L453.30 93.58 L454.30 93.21 L455.30 92.87 L456.30 92.56 L457.30 92.27 L458.30 91.99 L459.30 91.74 L460.30 91.51 L461.30 91.29 L462.30 91.09 L463.30 90.90 L464.30 90.73 L465.30 90.57 L466.30 90.42 L467.30 90.28 L468.30 90.15 L469.30 90.03 L470.30 89.92 L471.30 89.82 L472.30 89.72 L473.30 89.63 L474.30 89.55 L475.30 89.47 L476.30 89.40 L477.30 89.34 L478.30 89.28 L479.30 89.22 L480.30 89.17 L481.30 89.12 L482.30 89.07 L483.30 89.03 L484.30 88.99 L485.30 88.96 L486.30 88.93 L487.30 88.89 L488.30 88.87 L489.30 88.84 L490.30 88.81 L491.30 88.79 L492.30 88.77 L493.30 88.75 L494.30 88.73 L495.30 88.72 L496.30 88.70 L497.30 88.69 L498.30 88.67 L499.30 88.66 L500.30 88.65 L501.30 88.64 L502.30 88.63 L503.30 88.62 L504.30 88.61 L505.30 88.60 L506.30 88.59 L507.30 88.59 L508.30 88.58 L509.30 88.58 L510.30 88.57 L511.30 88.56 L512.30 88.56 L513.30 88.56 L514.30 88.55 L515.30 88.55 L516.30 88.54 L517.30 88.54 L518.30 88.54 L519.30 88.54 L520.30 88.53 L521.30 88.53 L522.30 88.53 L523.30 88.53 L524.30 88.52 L525.30 88.52 L526.30 88.52 L527.30 88.52 L528.30 88.52 L529.30 88.52 L530.30 88.52 L531.30 88.51 L532.30 88.51 L533.30 88.51 L534.30 88.51 L535.30 88.51 L536.30 88.51 L537.30 88.51 L538.30 88.51 L539.30 88.51 L540.30 88.51 L541.30 88.51 L542.30 88.51 L543.30 88.51 L544.30 88.51 L545.30 88.50 L546.30 88.50 L547.30 88.50 L548.30 88.50 L549.30 88.50 L550.30 88.50 L551.30 88.50 L552.30 88.50 L553.30 88.50 L554.30 88.50 L555.30 88.50 L556.30 88.50 L557.30 88.50 L558.30 88.50 L559.30 88.50 L560.30 88.50 L561.30 88.50 L562.30 88.50 L563.30 88.50 L564.30 88.50 L565.30 88.50 L566.30 88.50 L567.30 88.50 L568.30 88.50 L569.30 88.50 L570.30 88.50 L571.30 88.50 L572.30 88.50 L573.30 88.50 L574.30 88.50 L575.30 88.50 L576.30 88.50 L577.30 88.50 L578.30 88.50 L579.30 88.50 L580.30 88.50 L581.30 88.50 L582.30 88.50 L583.30 88.50 L584.30 88.50 L585.30 88.50 L586.30 88.50 L587.30 88.50 L588.30 88.50 L589.30 88.50 L590.30 88.50 L591.30 88.50 L592.30 88.50 L593.30 88.50 L594.30 88.50 L595.30 88.50 L596.30 88.50 L597.30 88.50 L598.30 88.50 L599.30 88.50 L600.30 88.50 L601.30 88.50 L602.30 88.50 L603.30 88.50 L604.30 88.50 L605.30 88.50 L606.30 88.50 L607.30 88.50 L608.30 88.50 L609.30 88.50 L610.30 88.50 L611.30 88.50 L612.30 88.50 L613.30 88.50 L614.30 88.50 L615.30 88.50 L616.30 88.50 L617.30 88.50 L618.30 88.50 L619.30 88.50 L620.30 88.50 L621.30 88.50 L622.30 88.50 L623.30 88.50 L624.30 88.50 L625.30 88.50 L626.30 88.50 L627.30 88.50 L628.30 88.50 L629.30 88.50 L630.30 88.50 L631.30 88.50 L632.30 88.50 L633.30 88.50 L634.30 88.50 L635.30 88.50 L636.30 88.50 L637.30 88.50 L638.30 88.50 L639.30 88.50 L640.30 88.50 L641.30 88.50 L642.30 88.50 L643.30 88.50 L644.30 88.50 L645.30 88.50 L646.30 88.50 L647.30 88.50 L648.30 88.50 L649.30 88.50 L650.30 88.50 L651.30 88.50 L652.30 88.50 L653.30 88.50 L654.30 88.50 L655.30 88.50 L656.30 88.50 L657.30 88.50 L658.30 88.50 L659.30 88.50 L660.30 88.50 L661.30 88.50 L662.30 88.50 L663.30 88.50 L664.30 88.50 L665.30 88.50 L666.30 88.50 L667.30 88.50 L668.30 88.50 L669.30 88.50 L670.30 88.50 L671.30 88.50 L672.30 88.50 L673.30 88.50 L674.30 88.50 L675.30 88.50 L676.30 88.50 L677.30 88.50 L678.30 88.50 L679.30 88.50 L680.30 88.50 L681.30 88.50 L682.30 88.50 L683.30 88.50 L684.30 88.50 L685.30 88.50 L686.30 88.50 L687.30 88.50 L688.30 88.50 L689.30 88.50 L690.30 88.50 L691.30 88.50 L692.30 88.50 L693.30 88.50 L694.30 88.50 L695.30 88.50 L696.30 88.50 L697.30 88.50 L698.30 88.50 L699.30 88.50 L700.30 88.50 L701.30 88.50 L702.30 88.50 L703.30 88.50 L704.30 88.50 L705.30 88.50 L706.30 88.50 L707.30 88.50 L708.30 88.50 L709.30 88.50 L710.30 88.50 L711.30 88.50 L712.30 88.50 L713.30 88.50 L714.30 88.50 L715.30 88.50 L716.30 88.50 L717.30 88.50 L718.30 88.50 L719.30 88.50 L720.30 88.50 L721.30 88.50 L722.30 88.50 L723.30 88.50 L724.30 88.50 L725.30 88.50 L726.30 88.50 L727.30 88.50 L728.30 88.50 L729.30 88.50 L730.30 88.50 L731.30 88.50 L732.30 88.50 L733.30 88.50 L734.30 88.50 L735.30 88.50 L736.30 88.50 L737.30 88.50 L738.30 88.50 L739.30 88.50 L740.30 88.50 L741.30 88.50 L742.30 88.50 L743.30 88.50 L744.30 88.50 L745.30 88.50 L746.30 88.50 L747.30 88.50 L748.30 88.50 L749.30 88.50 L750.30 88.50 L751.30 88.50 L752.30 88.50 L753.30 88.50 L754.30 88.50 L755.30 88.50 L756.30 88.50 L757.30 88.50 L758.30 88.50 L759.30 88.50 L760.30 88.50 L761.30 88.50 L762.30 88.50 L763.30 88.50 L764.30 88.50 L765.30 88.50 L766.30 88.50 L767.30 88.50 L768.30 88.50 L769.30 88.50 L770.30 88.50 L771.30 88.50 L772.30 88.50 L773.30 88.50 L774.30 88.50 L775.30 88.50 L776.30 88.50 L777.30 88.50 L778.30 88.50 L779.30 88.50 L780.30 88.50 L781.30 88.50 L782.30 88.50 L783.30 88.50 L784.30 88.50 L785.30 88.50 L786.30 88.50 L787.30 88.50 L788.30 88.50 L789.30 88.50 L790.30 88.50 L791.30 88.50 L792.30 88.50 L793.30 88.50 L794.30 88.50 L795.30 88.50 L796.30 88.50 L797.30 88.50 L798.30 88.50 L799.30 88.50 L800.30 88.50 L801.30 88.50 L802.30 88.50 L803.30 88.50 L804.30 88.50" stroke="#f00" stroke-width="2.6" fill="none" stroke-linecap="round" stroke-linejoin="round"/>
<path d="M553.9 308.4H633.2" stroke="#000" stroke-width="2.5"/>
<rect x="588.5" y="303.7" width="10" height="9.8" fill="#000"/>
<path d="M553.9 351.3H633.2" stroke="#f00" stroke-width="2.6"/>
<text transform="matrix(1 0 0 1.05 0 -16.025)" x="641" y="320.5" font-size="34.6">Simulation curve</text>
<text transform="matrix(1 0 0 1.05 0 -18.165)" x="641" y="363.3" font-size="34.6">Fit curve</text>
<text x="436" y="485.8" font-size="31.2">rock without initial hole modeling</text>
<text x="436" y="524.4" font-size="31.2">rotary speed <tspan font-style="italic">n</tspan><tspan font-size="21.2" dy="8.5">r</tspan><tspan dx="1.5" dy="-8.5"> is 15 rpm</tspan></text>
<text x="436.5" y="570" font-size="31.2">weight on bit is 9 kN</text>
<text x="436" y="608.3" font-size="31.2">drill bit teeth distribution angle <tspan font-style="italic">α</tspan><tspan dx="2"> is </tspan><tspan dx="-1.5">0</tspan><tspan dx="2.5">°</tspan></text>
<text transform="matrix(1 0 0 1.05 0 -38.370)" x="325.3" y="767.4" font-size="34.6" xml:space="preserve">impact velocity , <tspan font-style="italic">v</tspan><tspan font-size="22.8" dy="9.6">p</tspan><tspan dy="-9.6">  (ms</tspan><tspan font-size="22.8" dy="-14.2">-1</tspan><tspan dy="14.2">)</tspan></text>
<text transform="translate(28.7 720.00) rotate(-90) scale(1 0.975)" x="0" y="0" font-size="34.75" xml:space="preserve">impact force between drill bit and rock , <tspan font-style="italic">F</tspan><tspan font-size="22.8" dx="1.0" dy="9.2">t1max</tspan><tspan dy="-9.2"> (kN)</tspan></text>
</svg></body></html>
